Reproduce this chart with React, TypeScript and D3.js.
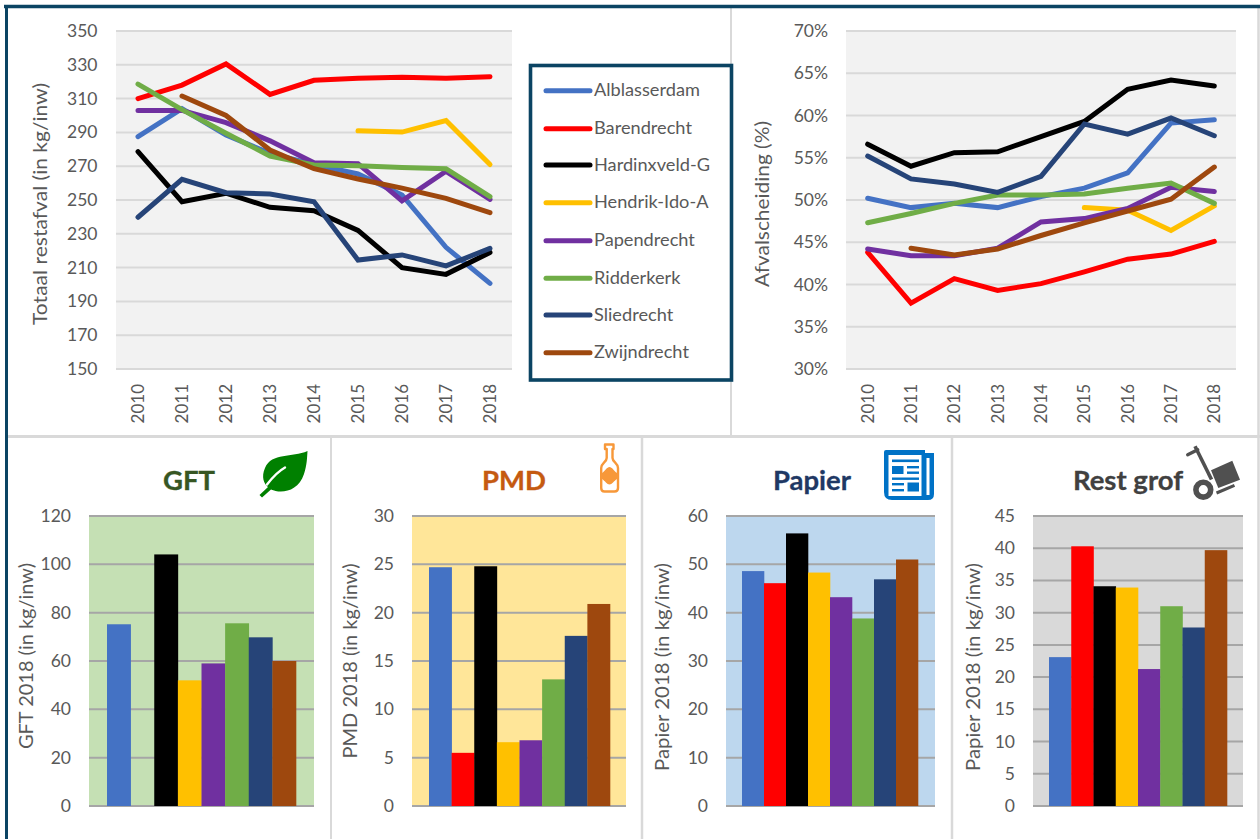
import React from "react";
import * as d3 from "d3";

const years = ["2010","2011","2012","2013","2014","2015","2016","2017","2018"];
const names = ["Alblasserdam","Barendrecht","Hardinxveld-G","Hendrik-Ido-A","Papendrecht","Ridderkerk","Sliedrecht","Zwijndrecht"];
const colors = ["#4472C4","#FF0000","#000000","#FFC000","#7030A0","#70AD47","#264478","#9E480E"];
const N = null;

const restAlblasserdam = [287.5,304,288.5,277.6,271,265.4,253,222,200.7];
const restBarendrecht = [310,318,330.5,312.5,320.8,322,322.6,322,323];
const restHardinxveld = [278.6,249,254,245.7,243.7,232,210,206,219];
const restHendrik = [N,N,N,N,N,291,290.2,297,271];
const restPapendrecht = [303,303,295.8,285,272,271.5,249.5,267,250.4];
const restRidderkerk = [318.6,303.5,289.5,276,270.7,270.3,269.3,268.5,252];
const restSliedrecht = [239.8,262.2,254.3,253.6,249,214.5,217.5,211,221.4];
const restZwijndrecht = [N,311.5,300,279.6,268.5,262.4,257,251,242.5];
const restSeries = [restAlblasserdam,restBarendrecht,restHardinxveld,restHendrik,restPapendrecht,restRidderkerk,restSliedrecht,restZwijndrecht];

const afvAlblasserdam = [50.2,49.1,49.6,49.1,50.4,51.4,53.2,59.1,59.5];
const afvBarendrecht = [43.8,37.8,40.7,39.3,40.1,41.5,43,43.6,45.1];
const afvHardinxveld = [56.6,54,55.6,55.7,57.5,59.3,63.1,64.2,63.5];
const afvHendrik = [N,N,N,N,N,49.1,48.8,46.4,49.3];
const afvPapendrecht = [44.2,43.4,43.4,44.3,47.4,47.8,49,51.5,51];
const afvRidderkerk = [47.3,48.4,49.6,50.6,50.6,50.7,51.4,52,49.6];
const afvSliedrecht = [55.2,52.5,51.9,50.9,52.8,59,57.8,59.7,57.6];
const afvZwijndrecht = [N,44.3,43.5,44.2,45.8,47.3,48.7,50.1,53.9];
const afvSeries = [afvAlblasserdam,afvBarendrecht,afvHardinxveld,afvHendrik,afvPapendrecht,afvRidderkerk,afvSliedrecht,afvZwijndrecht];

const gftValues = [75.2,N,104.1,52,59,75.6,69.8,60];
const pmdValues = [24.7,5.5,24.8,6.6,6.8,13.1,17.6,20.9];
const papierValues = [48.6,46.1,56.4,48.3,43.2,38.8,46.9,51];
const restGrofValues = [23.1,40.3,34.1,33.9,21.25,31,27.7,39.7];

const restTicks = [150,170,190,210,230,250,270,290,310,330,350];
const afvTicks = [30,35,40,45,50,55,60,65,70];
const gftTicks = [0,20,40,60,80,100,120];
const pmdTicks = [0,5,10,15,20,25,30];
const papierTicks = [0,10,20,30,40,50,60];
const restGrofTicks = [0,5,10,15,20,25,30,35,40,45];

const FONT = "Lato, 'Open Sans', sans-serif";
const TICK = "#595959";

function LineChart({series,ticks,fmt,left,right,labelX,tickX,ylabel,labelLen}:any){
  const top=31,bottom=369;
  const x=d3.scalePoint().domain(years).range([left,right]).padding(0.5);
  const y=d3.scaleLinear().domain([ticks[0],ticks[ticks.length-1]]).range([bottom,top]);
  const line=d3.line<any>().defined((d:any)=>d!==null).x((_:any,i:number)=>x(years[i]) as number).y((d:any)=>y(d));
  return <g>
    <rect x={left} y={top} width={right-left} height={bottom-top} fill="#F2F2F2"/>
    {ticks.map((t:number)=><g key={t}>
      <line x1={left} x2={right} y1={y(t)} y2={y(t)} stroke="#D9D9D9" strokeWidth={2}/>
      <text x={tickX} y={y(t)+6} textAnchor="end" fontSize={17.5} fill={TICK} fontFamily={FONT}>{fmt(t)}</text>
    </g>)}
    {years.map(yr=><text key={yr} transform={`translate(${(x(yr) as number)+6},384) rotate(-90)`} textAnchor="end" fontSize={17} fill={TICK} fontFamily={FONT}>{yr}</text>)}
    {series.map((s:any,i:number)=><path key={i} d={line(s) as string} fill="none" stroke={colors[i]} strokeWidth={5} strokeLinejoin="miter" strokeLinecap="round"/>)}
    <text transform={`translate(${labelX},204) rotate(-90)`} textAnchor="middle" fontSize={19} fill={TICK} fontFamily={FONT} textLength={labelLen} lengthAdjust="spacingAndGlyphs">{ylabel}</text>
  </g>;
}

function BarChart({values,ticks,left,right,barLeft,barRight,bg,labelX,labelY,tickX,ylabel,labelLen,title,titleX,titleColor}:any){
  const top=516,bottom=806;
  const bw=(barRight-barLeft)/8;
  const outer=(barLeft-left)/bw;
  const x=d3.scaleBand().domain(names).range([left,left+(barRight-barLeft)+2*(barLeft-left)]).paddingInner(0).paddingOuter(outer);
  const y=d3.scaleLinear().domain([0,ticks[ticks.length-1]]).range([bottom,top]);
  return <g>
    <rect x={left} y={top} width={right-left} height={bottom-top} fill={bg}/>
    {ticks.map((t:number)=><g key={t}>
      <line x1={left} x2={right} y1={y(t)} y2={y(t)} stroke="#A6A6A6" strokeWidth={2}/>
      <text x={tickX} y={y(t)+6} textAnchor="end" fontSize={17.5} fill={TICK} fontFamily={FONT}>{t}</text>
    </g>)}
    {values.map((v:any,i:number)=>v===null?null:<rect key={i} x={x(names[i])} width={x.bandwidth()+0.3} y={y(v)} height={bottom-y(v)} fill={colors[i]}/>)}
    <text transform={`translate(${labelX},${labelY}) rotate(-90)`} textAnchor="middle" fontSize={18.5} fill={TICK} fontFamily={FONT} textLength={labelLen} lengthAdjust="spacingAndGlyphs">{ylabel}</text>
    <text x={titleX} y={490} textAnchor="middle" fontSize={27.5} fontWeight={700} fill={titleColor} stroke={titleColor} strokeWidth={0.3} fontFamily={FONT}>{title}</text>
  </g>;
}

function Icons(){
  const blue="#0072C6", orange="#F79839", gray="#505050";
  return <g>
    <path d="M307.5 451 C292 458 272 452 265 468 C261 477 264 484 268 487 L259.5 495 L262 497.5 L271 489.5 C281 494 298 492 304 474 C307 465 307 458 307.5 451 Z" fill="#008000"/>
    <path d="M285 467.5 C277 472 272 478 267 484.5" fill="none" stroke="#fff" strokeWidth={2.4} strokeLinecap="round"/>

    <path d="M605 444.5 L613.5 444.5 L613.5 449 L612.5 449 L612.5 458 C612.5 462 618 463 618 468 L618 488 Q618 491.5 614.5 491.5 L604.5 491.5 Q601.2 491.5 601.2 488 L601.2 468 C601.2 463 606.7 462 606.7 458 L606.7 449 L605 449 Z" fill="#fff" stroke={orange} strokeWidth={2.4} strokeLinejoin="round"/>
    <path d="M602 473 C605 471 607 467 609.5 467 C612 467 614 471 617 473 L617 479 C614 481 612 484.5 609.5 484.5 C607 484.5 605 481 602 479 Z" fill={orange}/>

    <path d="M886 450 L925 450 L925 453 L934 453 L934 494 Q934 500 928 500 L892 500 Q884 500 884 492 L884 452 Q884 450 886 450 Z" fill={blue}/>
    <rect x={888.5} y={455} width={33} height={41} fill="#fff"/>
    <rect x={926.5} y={458} width={3} height={37} fill="#fff"/>
    <rect x={892} y={459.5} width={27} height={2.6} fill={blue}/>
    <rect x={892} y={466} width={11.5} height={8} fill={blue}/>
    <rect x={907} y={466} width={12} height={2.4} fill={blue}/>
    <rect x={907} y={471.5} width={12} height={2.4} fill={blue}/>
    <rect x={892} y={477.5} width={27} height={2.4} fill={blue}/>
    <rect x={892} y={483} width={12} height={2.4} fill={blue}/>
    <rect x={892} y={489} width={12} height={2.4} fill={blue}/>
    <rect x={907.5} y={482.5} width={11.5} height={9} fill={blue}/>

    <circle cx={1203.3} cy={489.7} r={7.4} fill="none" stroke={gray} strokeWidth={5.6}/>
    <path d="M1195 446.3 L1211.5 479.5" stroke={gray} strokeWidth={3.6} fill="none"/>
    <path d="M1187.7 454.7 L1197.7 449.7" stroke={gray} strokeWidth={3.4} strokeLinecap="round" fill="none"/>
    <path d="M1211 470.3 L1232.3 460.7 L1240 479.7 L1218.3 488 Z" fill={gray}/>
    <path d="M1216.5 493 L1234.5 485.3" stroke={gray} strokeWidth={3} fill="none"/>
  </g>;
}

export default function App(){
  const legendY=[90.7,128.7,165,202.7,240.7,278.3,315,352.7];
  return <svg width={1260} height={839} style={{position:"absolute",left:0,top:0,background:"#fff"}}>
    <rect x={0} y={0} width={1260} height={839} fill="#fff"/>
    <line x1={6} x2={1260} y1={436.5} y2={436.5} stroke="#D9D9D9" strokeWidth={3}/>
    <line x1={731} x2={731} y1={6} y2={436} stroke="#D9D9D9" strokeWidth={2}/>
    <line x1={331} x2={331} y1={436} y2={839} stroke="#D9D9D9" strokeWidth={2}/>
    <line x1={642} x2={642} y1={436} y2={839} stroke="#D9D9D9" strokeWidth={2.5}/>
    <line x1={952} x2={952} y1={436} y2={839} stroke="#D9D9D9" strokeWidth={2.5}/>
    <line x1={1258.5} x2={1258.5} y1={6} y2={839} stroke="#D9D9D9" strokeWidth={2.5}/>

    <LineChart series={restSeries} ticks={restTicks} fmt={(t:number)=>String(t)} left={116} right={512} tickX={97.5} labelX={47} ylabel="Totaal restafval (in kg/inw)" labelLen={242}/>
    <LineChart series={afvSeries} ticks={afvTicks} fmt={(t:number)=>t+"%"} left={846} right={1236} tickX={828} labelX={769} ylabel="Afvalscheiding (%)" labelLen={166}/>

    <rect x={530.5} y={65.5} width={201} height={314.5} fill="#fff" stroke="#0B4463" strokeWidth={3.6}/>
    {names.map((n,i)=><g key={n}>
      <line x1={546} x2={590} y1={legendY[i]} y2={legendY[i]} stroke={colors[i]} strokeWidth={5} strokeLinecap="round"/>
      <text x={594} y={legendY[i]+5.5} fontSize={18.2} fill={TICK} fontFamily={FONT}>{n}</text>
    </g>)}

    <BarChart values={gftValues} ticks={gftTicks} left={89} right={314} barLeft={107} barRight={296} bg="#C5E0B4" labelX={33} labelY={656} tickX={71} ylabel="GFT 2018  (in kg/inw)" labelLen={186} title="GFT" titleX={189} titleColor="#375623"/>
    <BarChart values={pmdValues} ticks={pmdTicks} left={412} right={626} barLeft={429} barRight={610} bg="#FFE699" labelX={357} labelY={661} tickX={394} ylabel="PMD 2018  (in kg/inw)" labelLen={195} title="PMD" titleX={514} titleColor="#C55A11"/>
    <BarChart values={papierValues} ticks={papierTicks} left={726} right={935} barLeft={742} barRight={918} bg="#BDD7EE" labelX={669} labelY={667} tickX={708} ylabel="Papier 2018  (in kg/inw)" labelLen={208} title="Papier" titleX={812} titleColor="#1F3864"/>
    <BarChart values={restGrofValues} ticks={restGrofTicks} left={1033} right={1243} barLeft={1049} barRight={1227} bg="#D9D9D9" labelX={980} labelY={667} tickX={1015} ylabel="Papier 2018  (in kg/inw)" labelLen={208} title="Rest grof" titleX={1128} titleColor="#404040"/>

    <Icons/>

    <line x1={4} x2={1260} y1={6.5} y2={6.5} stroke="#0B4463" strokeWidth={3.4}/>
    <line x1={6.5} x2={6.5} y1={5} y2={839} stroke="#0B4463" strokeWidth={3}/>
  </svg>;
}
